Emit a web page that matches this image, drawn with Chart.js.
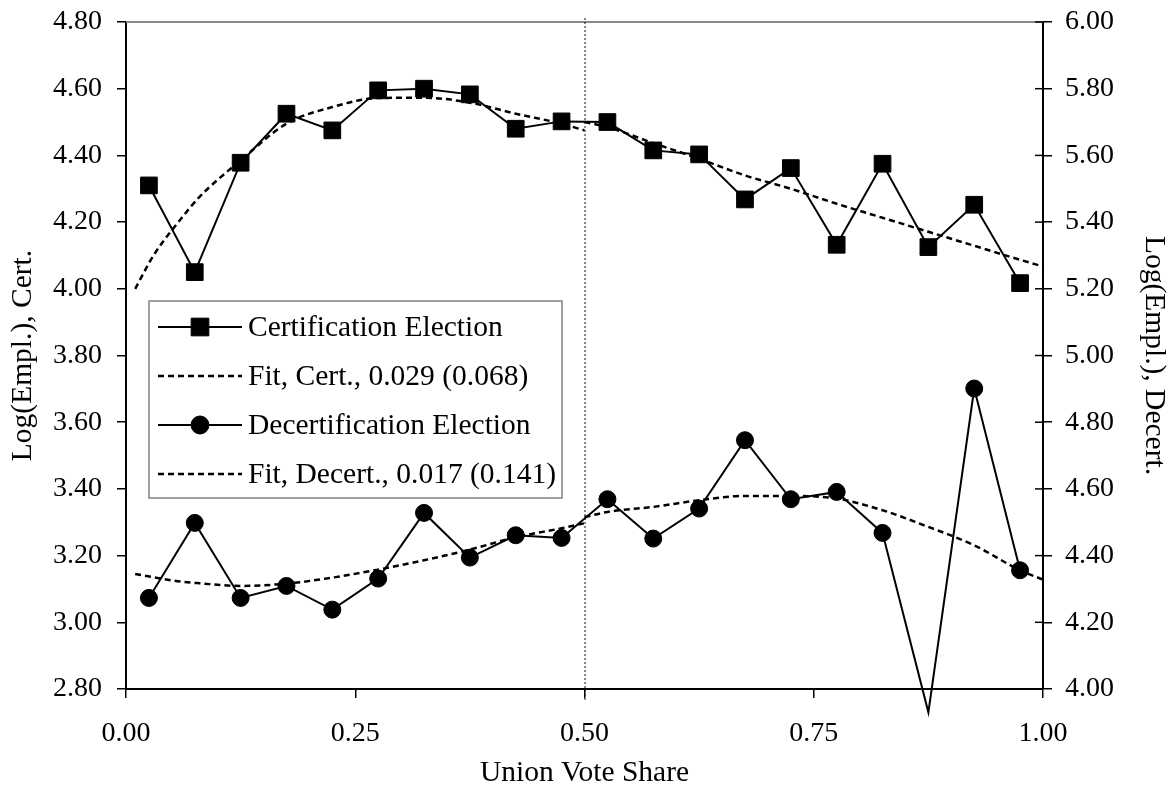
<!DOCTYPE html>
<html><head><meta charset="utf-8">
<script src="https://cdn.jsdelivr.net/npm/chart.js@4.4.1/dist/chart.umd.min.js"></script>
<style>html,body{margin:0;padding:0;background:#fff;} canvas{display:block;}</style>
</head><body>
<canvas id="c" width="1171" height="791"></canvas>
<script>
// ---- data ----
const voteShare = [0.025,0.075,0.125,0.175,0.225,0.275,0.325,0.375,0.425,0.475,0.525,0.575,0.625,0.675,0.725,0.775,0.825,0.875,0.925,0.975];
const certEmpl = [4.310,4.050,4.378,4.525,4.475,4.595,4.600,4.583,4.480,4.502,4.500,4.415,4.403,4.268,4.362,4.132,4.375,4.125,4.252,4.017];
const decertEmpl = [4.273,4.498,4.273,4.309,4.238,4.331,4.528,4.394,4.461,4.453,4.569,4.451,4.541,4.746,4.569,4.591,4.468,3.930,4.901,4.356];
const fitLeftX = [0.01,0.03,0.06,0.08,0.125,0.175,0.225,0.275,0.325,0.375,0.425,0.475,0.50];
const certFitLeft = [4.000,4.100,4.210,4.275,4.385,4.495,4.545,4.572,4.573,4.558,4.525,4.495,4.475];
const decertFitLeft = [4.345,4.335,4.322,4.317,4.309,4.316,4.334,4.358,4.386,4.418,4.455,4.482,4.497];
const fitRightX = [0.50,0.525,0.575,0.625,0.675,0.725,0.775,0.825,0.875,0.925,0.975,1.00];
const certFitRight = [4.500,4.485,4.437,4.390,4.340,4.300,4.255,4.213,4.171,4.129,4.087,4.067];
const decertFitRight = [4.515,4.531,4.546,4.566,4.579,4.579,4.571,4.536,4.486,4.431,4.356,4.328];
const cutoff = 0.5;
const legendLabels = ['Certification Election','Fit, Cert., 0.029 (0.068)','Decertification Election','Fit, Decert., 0.017 (0.141)'];
const axisTitles = {x:'Union Vote Share', left:'Log(Empl.), Cert.', right:'Log(Empl.), Decert.'};

const pts = (xs, ys) => xs.map((x, i) => ({x: x, y: ys[i]}));
const FONT = 'Liberation Serif';
const dash = [6,4];

const datasets = [
  {label: legendLabels[0], data: pts(voteShare, certEmpl), yAxisID: 'yL', borderColor:'#000', backgroundColor:'#000', borderWidth:2,
   pointStyle:'rect', pointRadius:11.8, pointBorderWidth:1, pointBorderColor:'#000', pointBackgroundColor:'#000', tension:0, order:1},
  {label: legendLabels[1], data: pts(fitLeftX, certFitLeft), yAxisID: 'yL', borderColor:'#000', borderWidth:2.5, borderDash:dash,
   pointRadius:0, cubicInterpolationMode:'monotone', order:2},
  {label: legendLabels[1], data: pts(fitRightX, certFitRight), yAxisID: 'yL', borderColor:'#000', borderWidth:2.5, borderDash:dash,
   pointRadius:0, cubicInterpolationMode:'monotone', order:2},
  {label: legendLabels[2], data: pts(voteShare, decertEmpl), yAxisID: 'yR', borderColor:'#000', backgroundColor:'#000', borderWidth:2,
   pointStyle:'circle', pointRadius: c => (c.raw && c.raw.y < 4) ? 0 : 8.5, pointBorderWidth:1, pointBorderColor:'#000', pointBackgroundColor:'#000',
   tension:0, clip:false, order:1},
  {label: legendLabels[3], data: pts(fitLeftX, decertFitLeft), yAxisID: 'yR', borderColor:'#000', borderWidth:2.5, borderDash:dash,
   pointRadius:0, cubicInterpolationMode:'monotone', order:2},
  {label: legendLabels[3], data: pts(fitRightX, decertFitRight), yAxisID: 'yR', borderColor:'#000', borderWidth:2.5, borderDash:dash,
   pointRadius:0, cubicInterpolationMode:'monotone', order:2}
];

const tickFont = {family: FONT, size: 28};
const titleFont = {family: FONT, size: 29.5};
const fmt = v => Number(v).toFixed(2);

const framePlugin = {
  id: 'frame',
  beforeDatasetsDraw(chart) {
    const {ctx, chartArea: ca, scales} = chart;
    ctx.save();
    ctx.strokeStyle = '#888';
    ctx.lineWidth = 2;
    ctx.beginPath(); ctx.moveTo(ca.left, ca.top); ctx.lineTo(ca.right, ca.top); ctx.stroke();
    // inner half of right-axis tick marks
    ctx.strokeStyle = '#000';
    ctx.lineWidth = 1.5;
    scales.yR.ticks.forEach(t => {
      const yp = scales.yR.getPixelForValue(t.value);
      ctx.beginPath(); ctx.moveTo(ca.right - 8, yp); ctx.lineTo(ca.right, yp); ctx.stroke();
    });
    const xp = scales.x.getPixelForValue(cutoff);
    ctx.strokeStyle = '#111';
    ctx.lineWidth = 1;
    ctx.setLineDash([2, 2]);
    ctx.beginPath(); ctx.moveTo(xp + 0.5, ca.top - 4); ctx.lineTo(xp + 0.5, ca.bottom + 12); ctx.stroke();
    ctx.restore();
  },
  afterDatasetsDraw(chart) {
    const {ctx, chartArea: ca} = chart;
    const bx = ca.left + 23, by = ca.top + 279, bw = 413, bh = 197;
    ctx.save();
    ctx.fillStyle = '#fff';
    ctx.fillRect(bx, by, bw, bh);
    ctx.strokeStyle = '#808080';
    ctx.lineWidth = 1.5;
    ctx.strokeRect(bx, by, bw, bh);
    const rows = [26, 75, 124, 173];
    const items = [datasets[0], datasets[1], datasets[3], datasets[4]];
    items.forEach((ds, i) => {
      const y = by + rows[i];
      ctx.strokeStyle = '#000';
      ctx.lineWidth = ds.borderWidth;
      ctx.setLineDash(ds.borderDash || []);
      ctx.beginPath(); ctx.moveTo(bx + 9, y); ctx.lineTo(bx + 93, y); ctx.stroke();
      ctx.setLineDash([]);
      if (ds.pointStyle) {
        ctx.fillStyle = '#000';
        ctx.lineWidth = 1;
        Chart.helpers.drawPoint(ctx, {pointStyle: ds.pointStyle, radius: ds.pointStyle === 'rect' ? 12.5 : 9, borderWidth: 1, rotation: 0}, bx + 51, y);
      }
      ctx.fillStyle = '#000';
      ctx.font = '29.5px "' + FONT + '"';
      ctx.textBaseline = 'middle';
      ctx.textAlign = 'left';
      ctx.fillText(ds.label, bx + 99, y + 1);
    });
    ctx.restore();
  }
};

new Chart(document.getElementById('c'), {
  type: 'line',
  data: {datasets: datasets},
  options: {
    responsive: false,
    animation: false,
    devicePixelRatio: 1,
    layout: {padding: {top: 22, left: 0, right: 0, bottom: 0}},
    plugins: {legend: {display: false}, tooltip: {enabled: false}},
    scales: {
      x: {
        type: 'linear', position: 'bottom', min: 0, max: 1,
        ticks: {stepSize: 0.25, callback: fmt, font: tickFont, color: '#000', padding: 19, maxRotation: 0, autoSkip: false},
        grid: {drawOnChartArea: false, drawTicks: true, tickLength: 9, color: '#000', lineWidth: 1.5},
        border: {color: '#000', width: 2},
        title: {display: true, text: axisTitles.x, font: titleFont, color: '#000', padding: {top: 0, bottom: 0}},
        afterFit: s => { s.height = 102; s.paddingLeft = 0; s.paddingRight = 0; }
      },
      yL: {
        type: 'linear', position: 'left', min: 2.8, max: 4.8,
        ticks: {stepSize: 0.2, callback: fmt, font: tickFont, color: '#000', padding: 15},
        grid: {drawOnChartArea: false, drawTicks: true, tickLength: 9, color: '#000', lineWidth: 1.5},
        border: {color: '#000', width: 2},
        title: {display: true, text: axisTitles.left, font: titleFont, color: '#000', padding: {top: 6, bottom: 0}},
        afterFit: s => { s.width = 126; s.paddingTop = 0; s.paddingBottom = 0; }
      },
      yR: {
        type: 'linear', position: 'right', min: 4, max: 6,
        ticks: {stepSize: 0.2, callback: fmt, font: tickFont, color: '#000', padding: 13},
        grid: {drawOnChartArea: false, drawTicks: true, tickLength: 9, color: '#000', lineWidth: 1.5},
        border: {color: '#000', width: 2},
        title: {display: true, text: axisTitles.right, font: titleFont, color: '#000', padding: {top: 0, bottom: 0}},
        afterFit: s => { s.width = 128; s.paddingTop = 0; s.paddingBottom = 0; }
      }
    }
  },
  plugins: [framePlugin]
});
</script>
</body></html>
